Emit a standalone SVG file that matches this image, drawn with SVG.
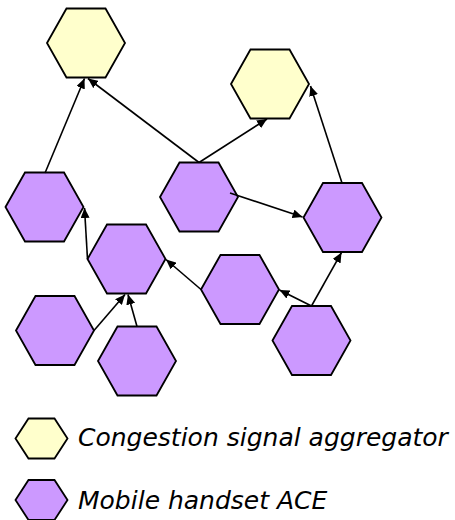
<svg xmlns="http://www.w3.org/2000/svg" width="455" height="520" viewBox="0 0 455 520">
  <style>
    .hex { stroke: #000; stroke-width: 1.8; stroke-linejoin: miter; }
    .agg { fill: #FFFFCC; }
    .ace { fill: #CC99FF; }
    .edge { stroke: #000; stroke-width: 1.6; fill: none; marker-end: url(#arrow); }
    .legend { font-family: "DejaVu Sans", Verdana, sans-serif; font-style: italic; font-size: 25px; fill: #000; }
  </style>
  <defs>
    <path id="hexagon" d="M-39,0 L-19.5,-34.5 L19.5,-34.5 L39,0 L19.5,34.5 L-19.5,34.5 Z"/>
    <path id="hexagon-small" d="M-26,0 L-13,-20 L13,-20 L26,0 L13,20 L-13,20 Z"/>
    <marker id="arrow" viewBox="0 0 10 10" refX="10" refY="5" markerWidth="10" markerHeight="9" markerUnits="userSpaceOnUse" orient="auto" preserveAspectRatio="none">
      <path d="M0,0 L10,5 L0,10 Z" fill="#000"/>
    </marker>
  </defs>

  <!-- aggregators -->
  <g id="agg1"><use href="#hexagon" class="hex agg" x="86" y="43"/></g>
  <g id="agg2"><use href="#hexagon" class="hex agg" x="270" y="84"/></g>

  <!-- handsets -->
  <g id="aceA"><use href="#hexagon" class="hex ace" x="44.5" y="207"/></g>
  <g id="aceB"><use href="#hexagon" class="hex ace" x="199" y="197"/></g>
  <g id="aceC"><use href="#hexagon" class="hex ace" x="342.5" y="217.5"/></g>
  <g id="aceD"><use href="#hexagon" class="hex ace" x="126.5" y="259"/></g>
  <g id="aceE"><use href="#hexagon" class="hex ace" x="240" y="289.5"/></g>
  <g id="aceF"><use href="#hexagon" class="hex ace" x="311.5" y="340.5"/></g>
  <g id="aceG"><use href="#hexagon" class="hex ace" x="55" y="330.5"/></g>
  <g id="aceH"><use href="#hexagon" class="hex ace" x="137" y="361"/></g>

  <!-- connectors -->
  <g id="connectors">
    <line class="edge" x1="45" y1="173" x2="84.5" y2="78.5"/>
    <line class="edge" x1="199" y1="162.5" x2="88" y2="78.5"/>
    <line class="edge" x1="199" y1="162.5" x2="267" y2="119"/>
    <line class="edge" x1="230" y1="193" x2="302.5" y2="217"/>
    <line class="edge" x1="342" y1="183" x2="310.5" y2="86"/>
    <line class="edge" x1="87.5" y1="259" x2="84.5" y2="208"/>
    <line class="edge" x1="201" y1="289.5" x2="166" y2="259.5"/>
    <line class="edge" x1="311.5" y1="306" x2="279.5" y2="290"/>
    <line class="edge" x1="311.5" y1="306" x2="341.5" y2="252.5"/>
    <line class="edge" x1="94" y1="330.5" x2="125" y2="294.5"/>
    <line class="edge" x1="137" y1="326.5" x2="128" y2="294.5"/>
  </g>

  <!-- legend -->
  <g id="legend-agg">
    <use href="#hexagon-small" class="hex agg" x="41.5" y="438.5"/>
    <text class="legend" x="78" y="446">Congestion signal aggregator</text>
  </g>
  <g id="legend-ace">
    <use href="#hexagon-small" class="hex ace" x="41.5" y="500"/>
    <text class="legend" x="78" y="509">Mobile handset ACE</text>
  </g>
</svg>
